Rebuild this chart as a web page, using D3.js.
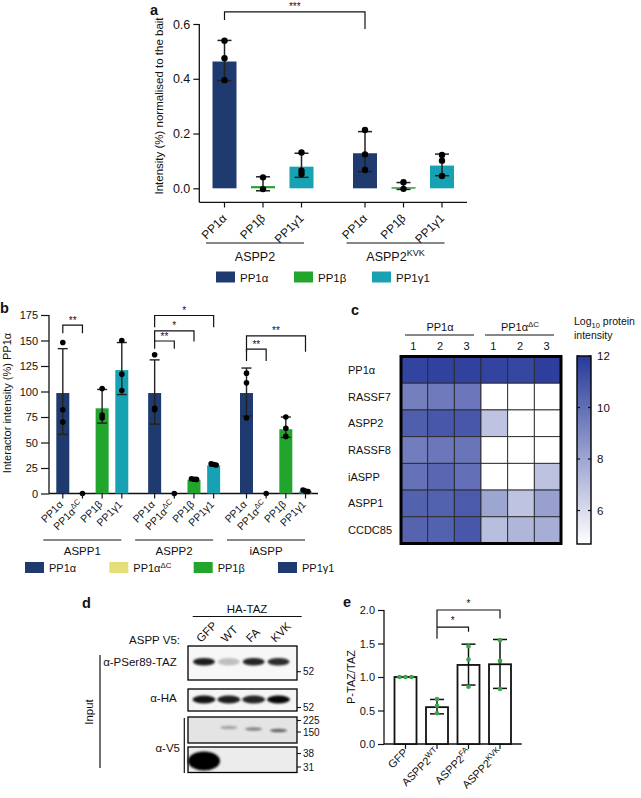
<!DOCTYPE html>
<html><head><meta charset="utf-8">
<script src="https://cdn.jsdelivr.net/npm/d3@7"></script>
<style>
body{margin:0;background:#fff}
svg{display:block}
text{font-family:"Liberation Sans",Arial,Helvetica,sans-serif;fill:#111}
</style>
</head><body>
<svg id="chart" width="641" height="798"></svg>
<script>
// ================= DATA =================
// Panel a
const aGroups = ["ASPP2", "ASPP2^KVK"];
const aIsoforms = ["PP1α", "PP1β", "PP1γ1"];
const aMeans = [[0.463, 0.008, 0.079], [0.128, 0.004, 0.083]];
const aErrLow = [[0.393, -0.009, 0.040], [0.061, -0.004, 0.046]];
const aErrHigh = [[0.540, 0.042, 0.128], [0.207, 0.021, 0.125]];
const aPoints = [
  [[0.539, 0.475, 0.395], [0.040, -0.003], [0.131, 0.064, 0.052]],
  [[0.213, 0.124, 0.067], [0.022, -0.002], [0.122, 0.101, 0.045]]
];
const aTicks = [0, 0.2, 0.4, 0.6];
const aSig = [{from: [0, 0], to: [1, 0], level: 0.644, leftDrop: 0.615, rightDrop: 0.582, label: "***"}];

// Panel b
const bGroups = ["ASPP1", "ASPP2", "iASPP"];
const bIsoforms = ["PP1α", "PP1α^ΔC", "PP1β", "PP1γ1"];
const bMeans = [[98.5, 0, 83.5, 121], [98.5, 0, 13.5, 27.5], [98.5, 0, 63, 2]];
const bErrLow = [[58, 0, 69, 97], [68, 0, 13, 27], [76, 0, 55, 1.5]];
const bErrHigh = [[142, 0, 102, 148], [131, 0, 14.5, 28.5], [123, 0, 75, 3]];
const bPoints = [
  [[148, 82, 70], [0], [103, 77, 74], [150, 117, 101]],
  [[136, 83.5, 82], [0], [14.5, 14, 13.8], [29, 28.5, 28]],
  [[118, 108.5, 74], [0], [75, 64, 56], [3.5, 2.5, 2]]
];
const bTicks = [0, 25, 50, 75, 100, 125, 150, 175];
const bSig = [
  {group: 0, from: 0, to: 1, level: 165, drop: 157, label: "**"},
  {group: 1, from: 0, to: 3, level: 174.5, drop: 163, label: "*"},
  {group: 1, from: 0, to: 2, level: 159.5, drop: 149, label: "*"},
  {group: 1, from: 0, to: 1, level: 149.5, drop: 142, label: "**"},
  {group: 2, from: 0, to: 3, level: 154.5, drop: 139, label: "**"},
  {group: 2, from: 0, to: 1, level: 141.5, drop: 130, label: "**"}
];
const bLegend = ["PP1α", "PP1α^ΔC", "PP1β", "PP1γ1"];

// Panel c (heatmap, log10 protein intensity; null = not detected)
const hmConditions = ["PP1α", "PP1α^ΔC"];
const hmReplicates = ["1", "2", "3"];
const hmRows = ["PP1α", "RASSF7", "ASPP2", "RASSF8", "iASPP", "ASPP1", "CCDC85"];
const hmValues = [
  [11.6, 11.7, 11.7, 11.6, 11.5, 11.8],
  [9.4, 9.6, 9.7, null, null, null],
  [10.6, 10.9, 10.9, 6.9, null, null],
  [9.5, 9.7, 9.8, null, null, null],
  [9.9, 10.3, 10.0, null, null, 7.0],
  [10.5, 10.5, 10.8, 8.0, 6.9, 8.2],
  [10.4, 10.5, 10.9, 7.1, 7.4, 7.7]
];
const hmDomain = [4.7, 12];
const hmTicks = [6, 8, 10, 12];

// Panel d (western blot)
const blotLanes = ["GFP", "WT", "FA", "KVK"];
const pSerTazBands = [0.88, 0.22, 0.85, 0.82];
const haBands = [0.92, 0.88, 0.85, 0.97];
const v5HighBands = [0, 0.28, 0.42, 0.55];
const v5LowBands = [1, 0, 0, 0];
const mwPSer = ["52"];
const mwHA = ["52"];
const mwV5High = ["225", "150"];
const mwV5Low = ["38", "31"];

// Panel e
const eCats = ["GFP", "ASPP2^WT", "ASPP2^FA", "ASPP2^KVK"];
const eMeans = [1.0, 0.55, 1.18, 1.19];
const eErrLow = [1.0, 0.45, 0.88, 0.83];
const eErrHigh = [1.0, 0.665, 1.49, 1.56];
const ePoints = [[1.0, 1.0, 1.0], [0.67, 0.57, 0.46], [1.46, 1.26, 0.855], [1.55, 1.24, 0.82]];
const eTicks = [0, 0.5, 1.0, 1.5, 2.0];
const eSig = [
  {from: 1, to: 3, level: 2.0, leftDrop: 1.57, rightDrop: 1.875, label: "*"},
  {from: 1, to: 2, level: 1.745, leftDrop: 1.745, rightDrop: 1.675, label: "*"}
];

// ================= DRAWING =================
const svg = d3.select("#chart");
svg.append("rect").attr("width", 641).attr("height", 798).attr("fill", "#fff");
const INK = "#111";
const NAVY = "#1e3a6e", GREEN = "#22a52c", TEAL = "#17a2b3", YELLOW = "#e6de7a";

function rich(sel, str, fs) {
  const m = str.match(/^(.*?)([\^_])(\S+)(.*)$/);
  if (!m) { sel.text(str); return sel; }
  sel.append("tspan").text(m[1]);
  const up = m[2] === "^";
  const off = up ? -fs * 0.38 : fs * 0.25;
  sel.append("tspan").attr("font-size", fs * 0.72).attr("dy", off).text(m[3]);
  if (m[4]) sel.append("tspan").attr("dy", -off).text(m[4]);
  return sel;
}
function txt(x, y, s, fs, anchor) {
  const t = svg.append("text").attr("x", x).attr("y", y).attr("font-size", fs).attr("text-anchor", anchor || "start");
  return rich(t, s, fs);
}
function line(x1, y1, x2, y2, w, c) {
  return svg.append("line").attr("x1", x1).attr("y1", y1).attr("x2", x2).attr("y2", y2)
    .attr("stroke", c || INK).attr("stroke-width", w || 1.2);
}
function yAxis(scale, x, ticks, fmt, fs, tsize, top, bottom) {
  const g = svg.append("g").attr("transform", `translate(${x},0)`)
    .call(d3.axisLeft(scale).tickValues(ticks).tickFormat(fmt).tickSize(tsize).tickSizeOuter(0));
  g.select(".domain").remove();
  g.selectAll(".tick line").attr("stroke", INK).attr("stroke-width", 1.2);
  g.selectAll(".tick text").attr("font-size", fs).attr("fill", INK).attr("x", -tsize - 3)
    .attr("font-family", '"Liberation Sans",Arial,sans-serif');
  line(x, top, x, bottom, 1.3);
}
function rotLabel(x, y, s, fs, anchor, angle) {
  const t = svg.append("text").attr("font-size", fs).attr("text-anchor", anchor)
    .attr("transform", `translate(${x},${y}) rotate(${angle})`);
  rich(t, s, fs);
}
function panelLabel(s, x, y) {
  svg.append("text").attr("x", x).attr("y", y).attr("font-size", 14.5).attr("font-weight", "bold").text(s);
}

// ---------- Panel a ----------
panelLabel("a", 150, 15);
const ya = d3.scaleLinear().domain([0, 0.6]).range([188.3, 24]);
const xaG = d3.scalePoint().domain(aGroups).range([263, 403.5]);
const xaI = d3.scalePoint().domain(aIsoforms).range([-38.5, 38.5]);
const colA = d3.scaleOrdinal().domain(aIsoforms).range([NAVY, GREEN, TEAL]);
const aBW = 24;
yAxis(ya, 199.3, aTicks, d3.format(".1f"), 12.5, 6, ya(0.6), 202.3);
line(199.3, 202.3, 467, 202.3, 1.3);
aGroups.forEach((g, gi) => aIsoforms.forEach((iso, ii) => {
  const cx = xaG(g) + xaI(iso);
  const m = aMeans[gi][ii];
  svg.append("rect").attr("x", cx - aBW / 2).attr("y", Math.min(ya(m), ya(0)))
    .attr("width", aBW).attr("height", Math.max(1.5, Math.abs(ya(0) - ya(m)))).attr("fill", colA(iso));
  line(cx, ya(aErrLow[gi][ii]), cx, ya(aErrHigh[gi][ii]), 1.5, "#222");
  [aErrLow[gi][ii], aErrHigh[gi][ii]].forEach(v => line(cx - 7, ya(v), cx + 7, ya(v), 1.5, "#222"));
  aPoints[gi][ii].forEach(v => svg.append("circle").attr("cx", cx).attr("cy", ya(v)).attr("r", 3.2).attr("fill", "#000"));
  line(cx, 202.3, cx, 207.5, 1.2);
  rotLabel(cx + 3, 219, iso, 12, "end", -45);
}));
aGroups.forEach(g => {
  const c = xaG(g);
  line(c - 57, 243, c + 41, 243, 1.2);
  txt(c - 8, 261, g, 12.5, "middle");
});
aSig.forEach(s => {
  const x1 = xaG(aGroups[s.from[0]]) + xaI(aIsoforms[s.from[1]]);
  const x2 = xaG(aGroups[s.to[0]]) + xaI(aIsoforms[s.to[1]]);
  svg.append("path").attr("d", `M${x1},${ya(s.leftDrop)}V${ya(s.level)}H${x2}V${ya(s.rightDrop)}`)
    .attr("fill", "none").attr("stroke", INK).attr("stroke-width", 1.2);
  txt((x1 + x2) / 2, ya(s.level) - 1.5, s.label, 10, "middle");
});
svg.append("text").attr("font-size", 11.5).attr("text-anchor", "middle")
  .attr("transform", "translate(163,106) rotate(-90)").text("Intensity (%) normalised to the bait");
const aLegX = d3.scalePoint().domain(aIsoforms).range([216, 372]);
aIsoforms.forEach(iso => {
  svg.append("rect").attr("x", aLegX(iso)).attr("y", 271.5).attr("width", 19).attr("height", 11).attr("fill", colA(iso));
  txt(aLegX(iso) + 24, 281.5, iso, 11.5);
});

// ---------- Panel b ----------
panelLabel("b", 0, 313);
const yb = d3.scaleLinear().domain([0, 175]).range([493.5, 315]);
const xbG = d3.scalePoint().domain(bGroups).range([92.3, 276]);
const xbI = d3.scalePoint().domain(bIsoforms).range([-29.5, 29.5]);
const colB = d3.scaleOrdinal().domain(bIsoforms).range([NAVY, YELLOW, GREEN, TEAL]);
const colBLeg = d3.scaleOrdinal().domain(bLegend).range([NAVY, YELLOW, GREEN, NAVY]);
const bBW = 13;
yAxis(yb, 49, bTicks, d3.format("d"), 11, 8, yb(175), yb(0));
line(49, yb(0), 318, yb(0), 1.3);
bGroups.forEach((g, gi) => bIsoforms.forEach((iso, ii) => {
  const cx = xbG(g) + xbI(iso);
  const m = bMeans[gi][ii];
  if (m > 0) svg.append("rect").attr("x", cx - bBW / 2).attr("y", yb(m))
    .attr("width", bBW).attr("height", yb(0) - yb(m)).attr("fill", colB(iso));
  if (bErrHigh[gi][ii] - bErrLow[gi][ii] > 2) {
    line(cx, yb(bErrLow[gi][ii]), cx, yb(bErrHigh[gi][ii]), 1.4, "#222");
    [bErrLow[gi][ii], bErrHigh[gi][ii]].forEach(v => line(cx - 5, yb(v), cx + 5, yb(v), 1.4, "#222"));
  }
  bPoints[gi][ii].forEach((v, k) => svg.append("circle")
    .attr("cx", cx + (bErrHigh[gi][ii] - bErrLow[gi][ii] <= 2 && bPoints[gi][ii].length > 1 ? (k - 1) * 2.5 : 0))
    .attr("cy", yb(v)).attr("r", 2.8).attr("fill", "#000"));
  line(cx, yb(0), cx, yb(0) + 5, 1.2);
  rotLabel(cx + 1, 505, iso, 10.5, "end", -45);
}));
bGroups.forEach(g => {
  const c = xbG(g);
  line(c - 49, 540, c + 29, 540, 1.2);
  txt(c - 10, 555, g, 11.5, "middle");
});
bSig.forEach(s => {
  const g = bGroups[s.group];
  const x1 = xbG(g) + xbI(bIsoforms[s.from]);
  const x2 = xbG(g) + xbI(bIsoforms[s.to]);
  svg.append("path").attr("d", `M${x1},${yb(s.drop)}V${yb(s.level)}H${x2}V${yb(s.drop)}`)
    .attr("fill", "none").attr("stroke", INK).attr("stroke-width", 1.2);
  txt((x1 + x2) / 2, yb(s.level) - 1.5, s.label, 10, "middle");
});
svg.append("text").attr("font-size", 11).attr("text-anchor", "middle")
  .attr("transform", "translate(11,403) rotate(-90)").call(t => rich(t, "Interactor intensity (%) PP1α", 11));
const bLegX = d3.scalePoint().domain(bLegend).range([25, 278]);
bLegend.forEach(iso => {
  svg.append("rect").attr("x", bLegX(iso)).attr("y", 562).attr("width", 19).attr("height", 11).attr("fill", colBLeg(iso));
  txt(bLegX(iso) + 24, 572, iso, 11);
});

// ---------- Panel c ----------
panelLabel("c", 351, 315);
const hmCols = d3.range(hmConditions.length * hmReplicates.length);
const xh = d3.scaleBand().domain(hmCols).range([401, 561]);
const yh = d3.scaleBand().domain(hmRows).range([356.5, 543.5]);
const hmColor = d3.scaleSequential(d3.interpolateRgb("#ffffff", "#27399a")).domain(hmDomain);
hmRows.forEach((r, ri) => hmCols.forEach(ci => {
  const v = hmValues[ri][ci];
  svg.append("rect").attr("x", xh(ci)).attr("y", yh(r)).attr("width", xh.bandwidth()).attr("height", yh.bandwidth())
    .attr("fill", v == null ? "#fff" : hmColor(v)).attr("stroke", "#2a2a2a").attr("stroke-width", 0.9);
}));
svg.append("rect").attr("x", 401).attr("y", 356.5).attr("width", 160).attr("height", 187)
  .attr("fill", "none").attr("stroke", "#000").attr("stroke-width", 3);
hmRows.forEach(r => txt(348, yh(r) + yh.bandwidth() / 2 + 4, r, 11));
hmConditions.forEach((c, k) => {
  const x0 = xh(k * 3), x1 = xh(k * 3 + 2) + xh.bandwidth();
  line(x0 + 4, 335, x1 - 7, 335, 1.1);
  txt((x0 + x1) / 2 - 1, 331, c, 11, "middle");
  hmReplicates.forEach((rep, j) => txt(xh(k * 3 + j) + xh.bandwidth() / 2 - 1, 350, rep, 11, "middle"));
});
// colorbar
const cbY = d3.scaleLinear().domain(hmDomain).range([544, 356]);
const grad = svg.append("defs").append("linearGradient").attr("id", "cbgrad")
  .attr("x1", 0).attr("y1", 1).attr("x2", 0).attr("y2", 0);
d3.range(0, 1.0001, 0.1).forEach(t => grad.append("stop").attr("offset", t)
  .attr("stop-color", hmColor(hmDomain[0] + t * (hmDomain[1] - hmDomain[0]))));
svg.append("rect").attr("x", 577).attr("y", 356).attr("width", 14).attr("height", 188)
  .attr("fill", "url(#cbgrad)").attr("stroke", "#000").attr("stroke-width", 1.4);
hmTicks.forEach(t => {
  line(577, cbY(t), 580, cbY(t), 1.2);
  line(588, cbY(t), 591, cbY(t), 1.2);
  txt(597, cbY(t) + 4, String(t), 11.5);
});
txt(574, 325, "Log_10 protein", 10.5);
txt(574, 339, "intensity", 10.5);

// ---------- Panel d ----------
panelLabel("d", 82, 608);
const defs = svg.append("defs");
defs.append("filter").attr("id", "blurA").attr("x", "-50%").attr("y", "-150%").attr("width", "200%").attr("height", "400%")
  .append("feGaussianBlur").attr("stdDeviation", 1.3);
defs.append("filter").attr("id", "blurB").attr("x", "-50%").attr("y", "-50%").attr("width", "200%").attr("height", "200%")
  .append("feGaussianBlur").attr("stdDeviation", 1.0);
const xl = d3.scalePoint().domain(blotLanes).range([204, 278.5]);
txt(247, 613, "HA-TAZ", 11.5, "middle");
line(192.7, 616.5, 301.7, 616.5, 1.1);
txt(180, 644, "ASPP V5:", 11.5, "end");
blotLanes.forEach(l => rotLabel(xl(l) - 3, 643, l, 11.5, "start", -45));
const boxX0 = 188, boxX1 = 297;
function blotBox(y0, y1, bg) {
  svg.append("rect").attr("x", boxX0).attr("y", y0).attr("width", boxX1 - boxX0).attr("height", y1 - y0)
    .attr("fill", bg).attr("stroke", "#000").attr("stroke-width", 1.3);
}
function bands(vals, cy, rx, ry, filt, dyPerLane) {
  blotLanes.forEach((l, i) => {
    if (vals[i] <= 0) return;
    svg.append("ellipse").attr("cx", xl(l)).attr("cy", cy + (dyPerLane ? dyPerLane * i : 0))
      .attr("rx", rx).attr("ry", ry).attr("fill", "#000").attr("opacity", vals[i]).attr("filter", filt);
  });
}
function mw(labels, ys) {
  labels.forEach((s, i) => { line(boxX1, ys[i], boxX1 + 4, ys[i], 1.1); txt(boxX1 + 6, ys[i] + 3.5, s, 10); });
}
blotBox(646, 680, "#f7f7f7");
bands(pSerTazBands, 661.7, 11, 3.8, "url(#blurA)");
mw(mwPSer, [671.7]);
blotBox(689, 711, "#f5f5f5");
bands(haBands, 699.5, 11.5, 4, "url(#blurA)");
mw(mwHA, [707.5]);
blotBox(717, 743, "#e4e4e4");
bands(v5HighBands, 726, 8.5, 1.8, "url(#blurA)", 1.5);
mw(mwV5High, [720.5, 732]);
blotBox(747, 772.5, "#ececec");
bands(v5LowBands, 761, 16, 9.5, "url(#blurB)");
mw(mwV5Low, [753.5, 767]);
txt(176.7, 665.5, "α-PSer89-TAZ", 11.5, "end");
txt(176.7, 702, "α-HA", 11.5, "end");
txt(180, 752, "α-V5", 11.5, "end");
line(184.3, 718, 184.3, 773, 1.2);
line(100, 655, 100, 768, 1.2);
svg.append("text").attr("font-size", 11.5).attr("text-anchor", "middle")
  .attr("transform", "translate(93,712) rotate(-90)").text("Input");

// ---------- Panel e ----------
panelLabel("e", 343, 607);
const ye = d3.scaleLinear().domain([0, 2]).range([744, 610]);
const xe = d3.scalePoint().domain(eCats).range([405.5, 500]);
const eBW = 22;
yAxis(ye, 384, eTicks, d3.format(".1f"), 11, 6, ye(2), ye(0));
line(384, ye(0), 521.7, ye(0), 1.3);
eCats.forEach((c, i) => {
  const cx = xe(c);
  svg.append("rect").attr("x", cx - eBW / 2).attr("y", ye(eMeans[i])).attr("width", eBW)
    .attr("height", ye(0) - ye(eMeans[i])).attr("fill", "#fff").attr("stroke", "#111").attr("stroke-width", 1.8);
  if (eErrHigh[i] - eErrLow[i] > 0.01) {
    line(cx, ye(eErrLow[i]), cx, ye(eErrHigh[i]), 1.5);
    [eErrLow[i], eErrHigh[i]].forEach(v => line(cx - 7, ye(v), cx + 7, ye(v), 1.5));
  }
  ePoints[i].forEach((v, k) => svg.append("circle")
    .attr("cx", cx + (eErrHigh[i] - eErrLow[i] <= 0.01 ? (k - 1) * 6 : 0))
    .attr("cy", ye(v)).attr("r", 2.3).attr("fill", "#3aa84a"));
  line(cx, ye(0), cx, ye(0) + 5, 1.2);
  rotLabel(cx + 3, 753, c, 11, "end", -45);
});
eSig.forEach(s => {
  const x1 = xe(eCats[s.from]), x2 = xe(eCats[s.to]);
  svg.append("path").attr("d", `M${x1},${ye(s.leftDrop)}V${ye(s.level)}H${x2}V${ye(s.rightDrop)}`)
    .attr("fill", "none").attr("stroke", INK).attr("stroke-width", 1.2);
  txt((x1 + x2) / 2, ye(s.level) - 3, s.label, 10, "middle");
});
svg.append("text").attr("font-size", 11).attr("text-anchor", "middle")
  .attr("transform", "translate(355,677) rotate(-90)").text("P-TAZ/TAZ");
</script>
</body></html>
